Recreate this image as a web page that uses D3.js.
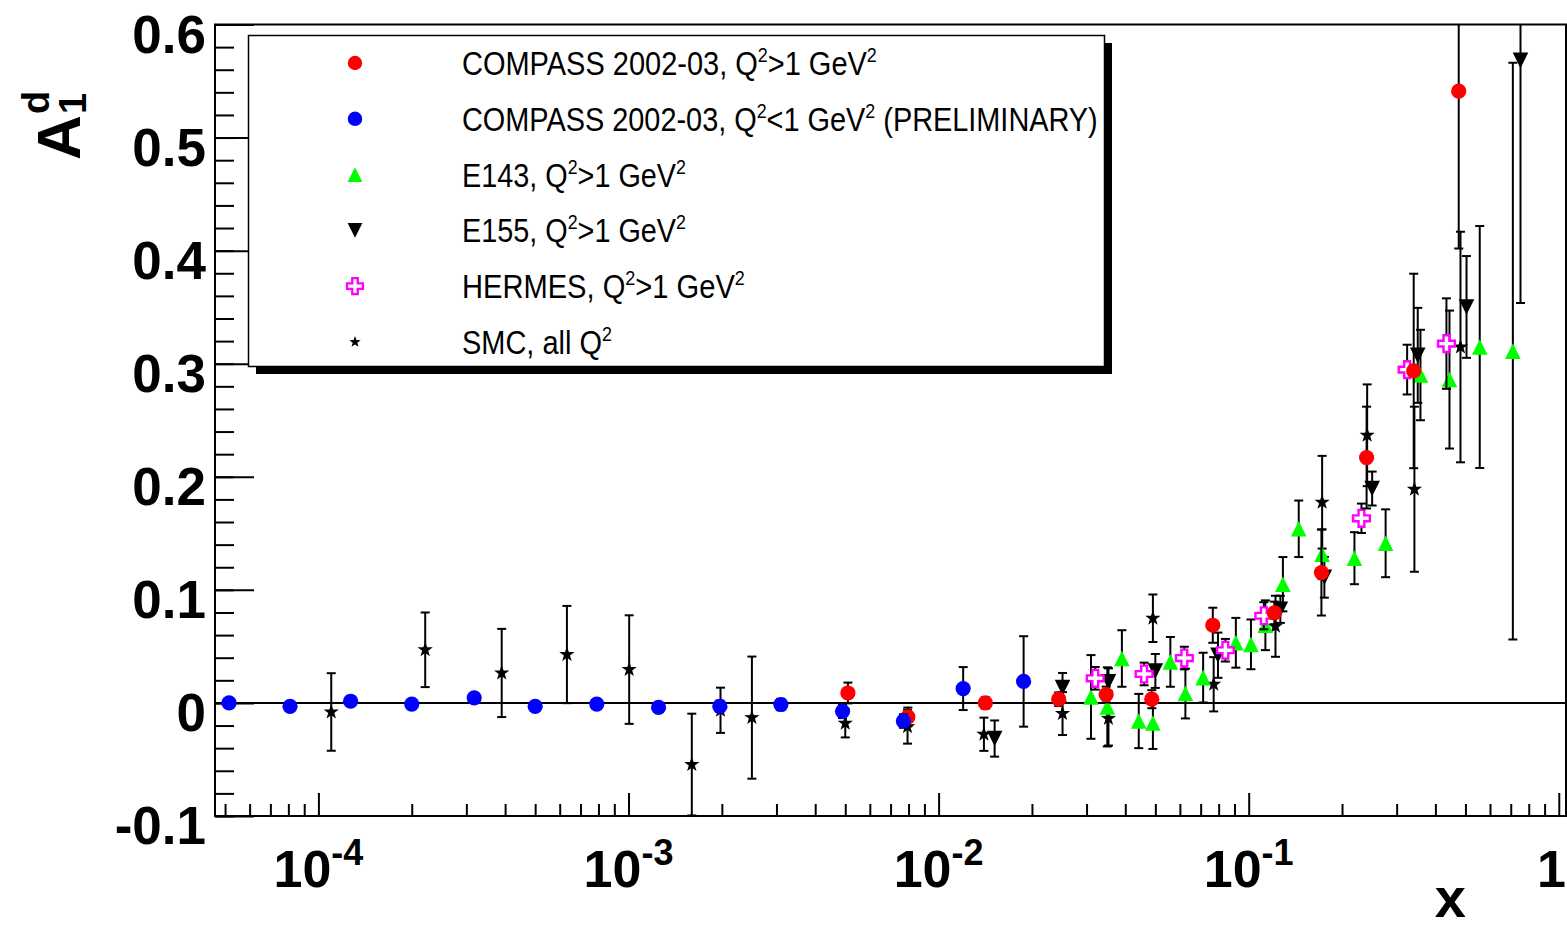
<!DOCTYPE html>
<html>
<head>
<meta charset="utf-8">
<script src="https://cdn.jsdelivr.net/npm/d3@7/dist/d3.min.js"></script>
<style>
  body { margin: 0; background: #fff; }
  svg { display: block; }
  text { font-family: "Liberation Sans", Arial, Helvetica, sans-serif; }
</style>
</head>
<body>
<svg id="chart"></svg>
<script>
// ---- data ----
const compassHiX = [5.1e-3, 7.96e-3, 1.415e-2, 2.44e-2, 3.47e-2, 4.87e-2, 7.66e-2, 0.121, 0.1716, 0.240, 0.3405, 0.4757];
const compassHiY = [0.0088, -0.0124, 0.0, 0.0033, 0.0074, 0.0033, 0.0687, 0.0796, 0.1153, 0.217, 0.2936, 0.541];
const compassHiE = [0.0092, 0.0083, 0.005, 0.006, 0.007, 0.008, 0.0155, 0.010, 0.038, 0.045, 0.086, 0.139];

const compassLoX = [5.15e-5, 8.1e-5, 1.27e-4, 2.0e-4, 3.18e-4, 5.0e-4, 7.9e-4, 1.25e-3, 1.97e-3, 3.1e-3, 4.9e-3, 7.7e-3, 1.2e-2, 1.88e-2];
const compassLoY = [0.0, -0.003, 0.0015, -0.001, 0.0045, -0.003, -0.001, -0.004, -0.003, -0.0014, -0.0074, -0.016, 0.0127, 0.019];
const compassLoE = [0.002, 0.002, 0.002, 0.003, 0.003, 0.003, 0.004, 0.004, 0.005, 0.005, 0.006, 0.006, 0.019, 0.040];

const e143X = [3.10e-2, 3.50e-2, 3.90e-2, 4.42e-2, 4.91e-2, 5.59e-2, 6.25e-2, 7.13e-2, 9.09e-2, 0.1017, 0.1132, 0.1289, 0.145, 0.1725, 0.2193, 0.2764, 0.358, 0.4441, 0.556, 0.711];
const e143Y = [0.0053, -0.0035, 0.0393, -0.016, -0.0177, 0.0363, 0.0083, 0.0224, 0.0532, 0.0518, 0.0687, 0.105, 0.154, 0.1315, 0.128, 0.1412, 0.290, 0.286, 0.3148, 0.3111];
const e143E = [0.037, 0.035, 0.025, 0.024, 0.023, 0.022, 0.022, 0.022, 0.022, 0.022, 0.022, 0.024, 0.025, 0.022, 0.023, 0.030, 0.040, 0.061, 0.107, 0.255];

const e155X = [1.516e-2, 2.51e-2, 3.53e-2, 5.0e-2, 7.96e-2, 0.1265, 0.1754, 0.2501, 0.3509, 0.504, 0.7525];
const e155Y = [-0.0315, 0.0135, 0.0186, 0.0283, 0.0422, 0.0828, 0.1111, 0.1896, 0.3074, 0.3502, 0.5683];
const e155E = [0.016, 0.013, 0.012, 0.015, 0.020, 0.012, 0.018, 0.015, 0.042, 0.045, 0.2146];

const hermesX = [3.20e-2, 4.60e-2, 6.20e-2, 8.41e-2, 0.1119, 0.2310, 0.3243, 0.4342];
const hermesY = [0.0218, 0.0256, 0.0397, 0.0466, 0.0771, 0.1633, 0.2948, 0.3178];
const hermesE = [0.010, 0.010, 0.010, 0.010, 0.012, 0.013, 0.022, 0.040];

const smcX = [1.10e-4, 2.21e-4, 3.90e-4, 6.33e-4, 1.005e-3, 1.60e-3, 1.98e-3, 2.50e-3, 5.0e-3, 7.94e-3, 1.40e-2, 2.51e-2, 3.53e-2, 4.91e-2, 7.71e-2, 0.122, 0.1725, 0.241, 0.3423, 0.4819];
const smcY = [-0.008, 0.047, 0.0265, 0.0428, 0.0295, -0.0545, -0.0065, -0.013, -0.018, -0.021, -0.0277, -0.0094, -0.0137, 0.0749, 0.0165, 0.0678, 0.1775, 0.2367, 0.189, 0.3148];
const smcE = [0.0343, 0.033, 0.039, 0.043, 0.048, 0.045, 0.020, 0.054, 0.0125, 0.015, 0.0147, 0.019, 0.024, 0.021, 0.024, 0.027, 0.041, 0.045, 0.073, 0.102];

const xMajorTicks = [1e-4, 1e-3, 1e-2, 1e-1, 1];
const xTickLabels = [["10", "-4"], ["10", "-3"], ["10", "-2"], ["10", "-1"], ["1", ""]];
const yMajorTicks = [-0.1, 0, 0.1, 0.2, 0.3, 0.4, 0.5, 0.6];
const yTickLabels = ["-0.1", "0", "0.1", "0.2", "0.3", "0.4", "0.5", "0.6"];

// legend rows: [text pieces, superscript flags]
const legendRows = [
  {key: "compassHi", parts: [["COMPASS 2002-03, Q", 0], ["2", 1], [">1 GeV", 0], ["2", 1]]},
  {key: "compassLo", parts: [["COMPASS 2002-03, Q", 0], ["2", 1], ["<1 GeV", 0], ["2", 1], [" (PRELIMINARY)", 0]]},
  {key: "e143", parts: [["E143, Q", 0], ["2", 1], [">1 GeV", 0], ["2", 1]]},
  {key: "e155", parts: [["E155, Q", 0], ["2", 1], [">1 GeV", 0], ["2", 1]]},
  {key: "hermes", parts: [["HERMES, Q", 0], ["2", 1], [">1 GeV", 0], ["2", 1]]},
  {key: "smc", parts: [["SMC, all Q", 0], ["2", 1]]}
];
const legendWidths = [415, 636, 224, 224, 283, 150];

// ---- layout ----
const width = 1567, height = 930;
const fr = {left: 215, right: 1566, top: 24.5, bottom: 816};

const svg = d3.select('#chart').attr('width', width).attr('height', height);

const x = d3.scaleLog().domain([4.64e-5, 1.055]).range([fr.left, fr.right]);
const y = d3.scaleLinear().domain([-0.1, 0.6]).range([fr.bottom, fr.top]);

// marker shapes
const shapes = {
  circle: d3.symbol().type(d3.symbolCircle).size(Math.PI * 7.6 * 7.6)(),
  up: "M-7.8,7.8L7.8,7.8L0,-7.8Z",
  down: "M-7.8,-7.8L7.8,-7.8L0,7.8Z",
  cross: "M-2.9,-8.4H2.9V-2.9H8.4V2.9H2.9V8.4H-2.9V2.9H-8.4V-2.9H-2.9Z",
  star: (() => {
    const pts = [];
    for (let i = 0; i < 10; i++) {
      const r = i % 2 ? 3.2 : 8;
      const a = -Math.PI / 2 + i * Math.PI / 5;
      pts.push([r * Math.cos(a), r * Math.sin(a)]);
    }
    return "M" + pts.map(p => p.join(",")).join("L") + "Z";
  })()
};

const series = {
  smc:       {xs: smcX, ys: smcY, es: smcE, shape: "star", fill: "#000", stroke: "none"},
  e155:      {xs: e155X, ys: e155Y, es: e155E, shape: "down", fill: "#000", stroke: "none"},
  e143:      {xs: e143X, ys: e143Y, es: e143E, shape: "up", fill: "#00ff00", stroke: "none"},
  hermes:    {xs: hermesX, ys: hermesY, es: hermesE, shape: "cross", fill: "#fff", stroke: "#ff00ff"},
  compassHi: {xs: compassHiX, ys: compassHiY, es: compassHiE, shape: "circle", fill: "#ff0000", stroke: "none"},
  compassLo: {xs: compassLoX, ys: compassLoY, es: compassLoE, shape: "circle", fill: "#0000ff", stroke: "none"}
};

svg.append('defs').append('clipPath').attr('id', 'frameClip')
  .append('rect')
  .attr('x', fr.left).attr('y', fr.top)
  .attr('width', fr.right - fr.left).attr('height', fr.bottom - fr.top);

// ---- axes ticks ----
const xMinor = [];
for (let p = -5; p <= 0; p++) {
  for (let k = 2; k <= 9; k++) {
    const v = k * Math.pow(10, p);
    if (v > x.domain()[0] && v < x.domain()[1]) xMinor.push(v);
  }
}
const axG = svg.append('g');

axG.append('g').attr('transform', `translate(0,${fr.bottom})`)
  .call(d3.axisBottom(x).tickValues(xMinor).tickSizeInner(-12).tickSizeOuter(0).tickFormat(''))
  .call(g => g.select('.domain').remove());
axG.append('g').attr('transform', `translate(0,${fr.bottom})`)
  .call(d3.axisBottom(x).tickValues(xMajorTicks).tickSizeInner(-23).tickSizeOuter(0).tickFormat(''))
  .call(g => g.select('.domain').remove());

const yMinor = d3.range(-5, 31).map(i => i * 0.02);
axG.append('g').attr('transform', `translate(${fr.left},0)`)
  .call(d3.axisLeft(y).tickValues(yMinor).tickSizeInner(-19).tickSizeOuter(0).tickFormat(''))
  .call(g => g.select('.domain').remove());
axG.append('g').attr('transform', `translate(${fr.left},0)`)
  .call(d3.axisLeft(y).tickValues(yMajorTicks).tickSizeInner(-39).tickSizeOuter(0)
    .tickPadding(9).tickFormat((d, i) => yTickLabels[i]))
  .call(g => g.select('.domain').remove())
  .call(g => g.selectAll('text')
    .attr('dy', '0.52em')
    .style('font-family', '"Liberation Sans", Arial, sans-serif')
    .style('font-weight', 'bold').style('font-size', '53px').attr('fill', '#000'));

axG.selectAll('.tick line').attr('stroke', '#000').attr('stroke-width', 2);

// x labels with superscripts (the last one kept inside the page)
const xl = axG.append('g').selectAll('text').data(xMajorTicks).join('text')
  .attr('x', (d, i) => i === xMajorTicks.length - 1 ? fr.right : x(d)).attr('y', 887)
  .attr('text-anchor', (d, i) => i === xMajorTicks.length - 1 ? 'end' : 'middle')
  .style('font-weight', 'bold').style('font-size', '52px');
xl.append('tspan').text((d, i) => xTickLabels[i][0]);
xl.filter((d, i) => xTickLabels[i][1] !== '')
  .append('tspan').attr('dy', -22).style('font-size', '36px').text((d, i) => xTickLabels[i][1]);

// frame
svg.append('rect')
  .attr('x', fr.left).attr('y', fr.top)
  .attr('width', fr.right - fr.left).attr('height', fr.bottom - fr.top)
  .attr('fill', 'none').attr('stroke', '#000').attr('stroke-width', 2);

// zero line
svg.append('line')
  .attr('x1', fr.left).attr('x2', fr.right)
  .attr('y1', y(0)).attr('y2', y(0))
  .attr('stroke', '#000').attr('stroke-width', 2);

// axis titles
svg.append('text').attr('x', 1466).attr('y', 917).attr('text-anchor', 'end')
  .style('font-weight', 'bold').style('font-size', '56px').text('x');

const yt = svg.append('g').attr('transform', 'translate(80,160) rotate(-90)')
  .style('font-weight', 'bold');
yt.append('text').attr('x', 0).attr('y', 0).style('font-size', '62px').text('A');
yt.append('text').attr('x', 46).attr('y', -31).style('font-size', '38px').text('d');
yt.append('text').attr('x', 46).attr('y', 6).style('font-size', '38px').text('1');

// ---- data ----
const plot = svg.append('g').attr('clip-path', 'url(#frameClip)');

Object.entries(series).forEach(([key, s]) => {
  const pts = s.xs.map((xv, i) => ({x: xv, y: s.ys[i], e: s.es[i]}));
  const g = plot.append('g').attr('class', key);
  const bars = g.append('g').attr('stroke', '#000').attr('stroke-width', 2);
  bars.selectAll('line.v').data(pts).join('line').attr('class', 'v')
    .attr('x1', d => x(d.x)).attr('x2', d => x(d.x))
    .attr('y1', d => y(d.y - d.e)).attr('y2', d => y(d.y + d.e));
  bars.selectAll('line.t').data(pts).join('line').attr('class', 't')
    .attr('x1', d => x(d.x) - 4.5).attr('x2', d => x(d.x) + 4.5)
    .attr('y1', d => y(d.y + d.e)).attr('y2', d => y(d.y + d.e));
  bars.selectAll('line.b').data(pts).join('line').attr('class', 'b')
    .attr('x1', d => x(d.x) - 4.5).attr('x2', d => x(d.x) + 4.5)
    .attr('y1', d => y(d.y - d.e)).attr('y2', d => y(d.y - d.e));
  g.append('g').selectAll('path').data(pts).join('path')
    .attr('d', shapes[s.shape])
    .attr('transform', d => `translate(${x(d.x)},${y(d.y)})`)
    .attr('fill', s.fill)
    .attr('stroke', s.stroke).attr('stroke-width', 2.4);
});

// ---- legend ----
const lg = svg.append('g');
lg.append('rect').attr('x', 256).attr('y', 43).attr('width', 856).attr('height', 331).attr('fill', '#000');
lg.append('rect').attr('x', 248.5).attr('y', 35.5).attr('width', 856).attr('height', 331)
  .attr('fill', '#fff').attr('stroke', '#000').attr('stroke-width', 1.5);

const rowY = d3.scaleLinear().domain([0, 5]).range([63, 342]);
legendRows.forEach((row, i) => {
  const s = series[row.key];
  const cy = rowY(i);
  const sc = row.key === 'smc' ? 0.75 : 0.95;
  lg.append('path').attr('d', shapes[s.shape])
    .attr('transform', `translate(355,${cy}) scale(${sc})`)
    .attr('fill', s.fill).attr('stroke', s.stroke).attr('stroke-width', 2.4);
  const t = lg.append('text').attr('x', 0).attr('y', 0).style('font-size', '34px');
  let up = false;
  row.parts.forEach(([str, sup]) => {
    const ts = t.append('tspan').text(str);
    if (sup && !up) { ts.attr('dy', -13).style('font-size', '21px'); up = true; }
    else if (!sup && up) { ts.attr('dy', 13); up = false; }
  });
  const w = t.node().getBBox().width;
  const k = legendWidths[i] / w;
  t.attr('transform', `translate(462,${cy + 12}) scale(${k},1)`);
});
</script>
</body>
</html>
